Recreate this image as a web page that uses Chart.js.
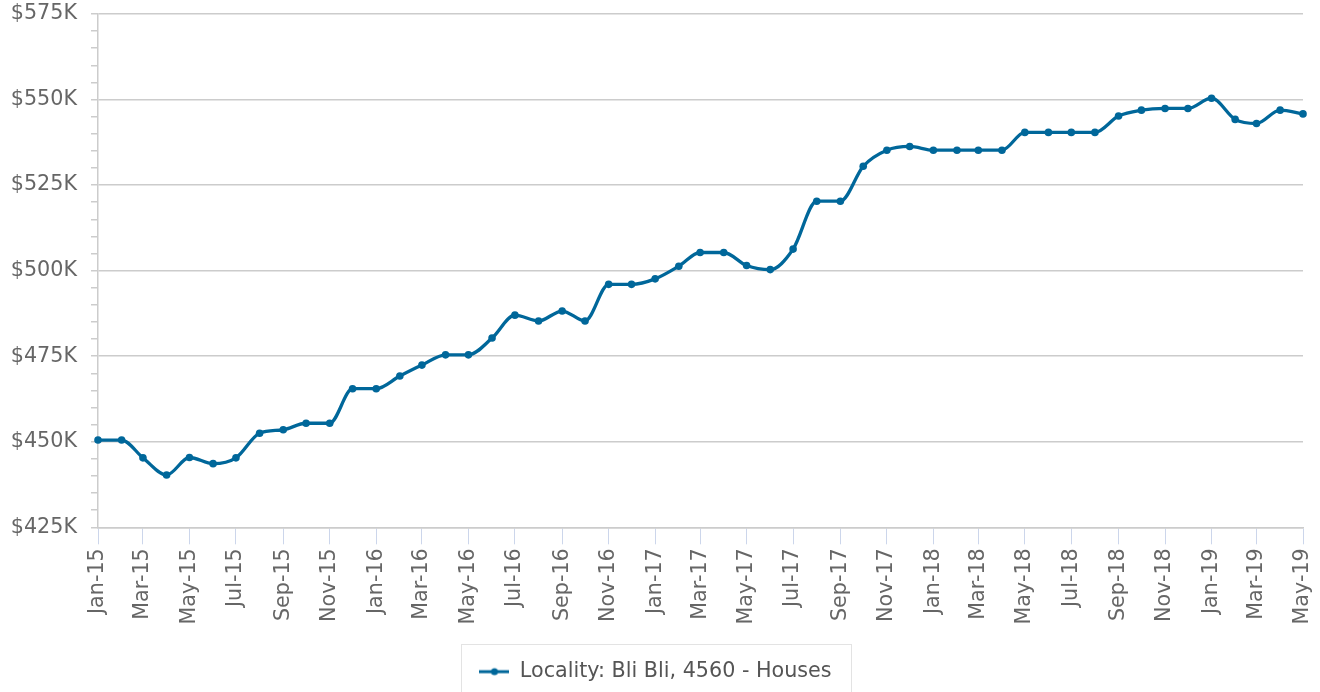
<!DOCTYPE html>
<html>
<head>
<meta charset="utf-8">
<script src="https://cdn.jsdelivr.net/npm/chart.js@4"></script>
<style>
  html, body { margin: 0; padding: 0; background: #fff; overflow: hidden; }
  #wrap { width: 1320px; height: 692px; }
</style>
</head>
<body>
<div id="wrap"><canvas id="c" width="1320" height="692"></canvas></div>
<script>
// ---- data ----
const categories = [
  'Jan-15','Feb-15','Mar-15','Apr-15','May-15','Jun-15','Jul-15','Aug-15','Sep-15','Oct-15','Nov-15','Dec-15',
  'Jan-16','Feb-16','Mar-16','Apr-16','May-16','Jun-16','Jul-16','Aug-16','Sep-16','Oct-16','Nov-16','Dec-16',
  'Jan-17','Feb-17','Mar-17','Apr-17','May-17','Jun-17','Jul-17','Aug-17','Sep-17','Oct-17','Nov-17','Dec-17',
  'Jan-18','Feb-18','Mar-18','Apr-18','May-18','Jun-18','Jul-18','Aug-18','Sep-18','Oct-18','Nov-18','Dec-18',
  'Jan-19','Feb-19','Mar-19','Apr-19','May-19'
];
const medianPrice = [
  450500, 450500, 445300, 440300, 445400, 443600, 445300, 452500, 453500, 455400, 455400, 465500,
  465500, 469200, 472400, 475400, 475400, 480300, 487000, 485300, 488200, 485300, 496000, 496000,
  497600, 501300, 505300, 505300, 501500, 500300, 506300, 520300, 520300, 530500, 535200, 536300,
  535200, 535200, 535200, 535200, 540400, 540400, 540400, 540400, 545200, 546900, 547400, 547400,
  550400, 544200, 543000, 546900, 545800
];
const xTickLabels = [
  'Jan-15','Mar-15','May-15','Jul-15','Sep-15','Nov-15',
  'Jan-16','Mar-16','May-16','Jul-16','Sep-16','Nov-16',
  'Jan-17','Mar-17','May-17','Jul-17','Sep-17','Nov-17',
  'Jan-18','Mar-18','May-18','Jul-18','Sep-18','Nov-18',
  'Jan-19','Mar-19','May-19'
];
const seriesName = 'Locality: Bli Bli, 4560 - Houses';
const yMin = 425000, yMax = 575000, yMinorStep = 5000, yMajorStep = 25000;

// ---- helpers ----
const MONTHS = ['Jan','Feb','Mar','Apr','May','Jun','Jul','Aug','Sep','Oct','Nov','Dec'];
const BASE = Date.UTC(2015, 0, 1);
function dayOf(label) {
  const [m, y] = label.split('-');
  return (Date.UTC(2000 + parseInt(y, 10), MONTHS.indexOf(m), 1) - BASE) / 86400000;
}
const points = categories.map((c, i) => ({ x: dayOf(c), y: medianPrice[i] }));
const tickValueToLabel = {};
xTickLabels.forEach(l => { tickValueToLabel[dayOf(l)] = l; });

const LINE = '#00679a';
const FONT = 'DejaVu Sans';

// legend symbol: short line with a dot
const sym = document.createElement('canvas');
sym.width = 30; sym.height = 12;
(function () {
  const g = sym.getContext('2d');
  g.strokeStyle = LINE; g.lineWidth = 3;
  g.beginPath(); g.moveTo(0, 6); g.lineTo(30, 6); g.stroke();
  g.fillStyle = LINE;
  g.beginPath(); g.arc(15, 6, 3.5, 0, Math.PI * 2); g.fill();
})();

const legendBox = {
  id: 'legendBox',
  afterDraw(chart) {
    const lg = chart.legend;
    if (!lg || !lg.legendHitBoxes || !lg.legendHitBoxes.length) return;
    const hb = lg.legendHitBoxes[0];
    const ctx = chart.ctx;
    ctx.save();
    ctx.strokeStyle = '#e3e3e3';
    ctx.lineWidth = 1;
    const left = Math.round(hb.left - 18) + 0.5;
    const right = Math.round(hb.left + hb.width + 19) + 0.5;
    const top = Math.round(lg.top) + 0.5;
    ctx.strokeRect(left, top, right - left, 80);
    ctx.restore();
  }
};

new Chart(document.getElementById('c'), {
  type: 'line',
  data: {
    datasets: [{
      label: seriesName,
      data: points,
      borderColor: LINE,
      backgroundColor: LINE,
      borderWidth: 3.3,
      pointRadius: 3.8,
      pointBorderWidth: 0,
      pointBackgroundColor: LINE,
      cubicInterpolationMode: 'monotone',
      fill: false,
      clip: false
    }]
  },
  options: {
    responsive: false,
    animation: false,
    layout: { padding: { top: 14, right: 17, left: 8, bottom: 0 } },
    plugins: {
      tooltip: { enabled: false },
      legend: {
        position: 'bottom',
        labels: {
          usePointStyle: true,
          pointStyleWidth: 30,
          padding: 17,
          color: '#555555',
          font: { family: FONT, size: 20.7 },
          generateLabels: (chart) => [{
            text: seriesName,
            pointStyle: sym,
            fillStyle: LINE,
            strokeStyle: LINE,
            lineWidth: 0,
            hidden: false,
            datasetIndex: 0,
            fontColor: '#555555'
          }]
        }
      }
    },
    scales: {
      x: {
        type: 'linear',
        min: dayOf(categories[0]),
        max: dayOf(categories[categories.length - 1]),
        afterBuildTicks: (scale) => {
          scale.ticks = xTickLabels.map(l => ({ value: dayOf(l) }));
        },
        afterFit: (scale) => {
          scale.height = 117;
          scale.paddingLeft = 0; scale.paddingRight = 0;
        },
        ticks: {
          autoSkip: false,
          minRotation: 90,
          maxRotation: 90,
          padding: 4,
          color: '#666666',
          font: { family: FONT, size: 20.7 },
          callback: (v) => tickValueToLabel[v] || ''
        },
        grid: {
          drawOnChartArea: false,
          drawTicks: true,
          tickLength: 17,
          tickColor: '#ccd6eb',
          tickWidth: 1
        },
        border: { display: true, color: '#cccccc', width: 1.5 }
      },
      y: {
        min: yMin,
        max: yMax,
        afterFit: (scale) => {
          scale.width = 90;
          scale.paddingTop = 0; scale.paddingBottom = 0;
        },
        ticks: {
          stepSize: yMinorStep,
          autoSkip: false,
          padding: 14,
          color: '#666666',
          font: { family: FONT, size: 20.7 },
          callback: (v) => (v % yMajorStep === 0) ? '$' + (v / 1000) + 'K' : ''
        },
        grid: {
          color: (ctx) => (ctx.tick && ctx.tick.value % yMajorStep === 0) ? '#cccccc' : 'rgba(0,0,0,0)',
          lineWidth: 1.5,
          tickLength: 7,
          tickColor: '#cccccc',
          tickWidth: 1.5
        },
        border: { display: true, color: '#cccccc', width: 1.5 }
      }
    }
  },
  plugins: [legendBox]
});
</script>
</body>
</html>
